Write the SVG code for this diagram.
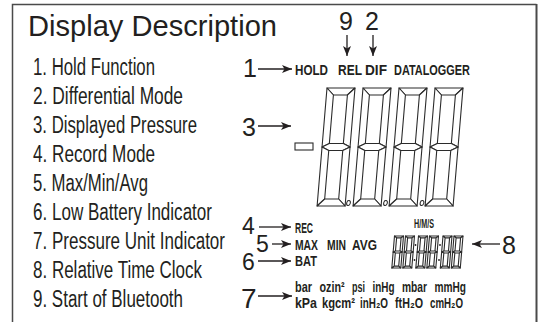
<svg xmlns="http://www.w3.org/2000/svg" xmlns:xlink="http://www.w3.org/1999/xlink" width="542" height="322" viewBox="0 0 542 322">
<style>
.frame{fill:none;stroke:#4a4a4a;stroke-width:1.5}
.title{font-family:"Liberation Sans",Arial,sans-serif;font-size:29px;fill:#231f20}
.item{font-family:"Liberation Sans Narrow","Liberation Sans",Arial,sans-serif;font-size:23px;fill:#231f20}
.num{font-family:"Liberation Sans",Arial,sans-serif;font-size:25px;fill:#231f20}
.lcd{font-family:"Liberation Sans Narrow","Liberation Sans","DejaVu Sans",Arial,sans-serif;font-weight:bold;font-size:14.5px;fill:#231f20}
.seg polygon{fill:#fff;stroke:#2b2b2b;stroke-width:1.1;stroke-linejoin:round;vector-effect:non-scaling-stroke}
.arr{stroke:#231f20;stroke-width:1.3;fill:none}
</style>
<defs>
<marker id="ah" markerUnits="userSpaceOnUse" markerWidth="11" markerHeight="9" refX="10" refY="4" orient="auto" overflow="visible">
<path d="M0,0 L10,4 L0,8 L2.5,4 Z" fill="#231f20"/>
</marker>
<g id="dg" class="seg">
<polygon points="0,0 28,0 21,7 7,7"/>
<polygon points="0,0 7,7 7,55.5 0,59"/>
<polygon points="28,0 21,7 21,55.5 28,59"/>
<polygon points="0,59 7,55.5 21,55.5 28,59 21,62.5 7,62.5"/>
<polygon points="0,59 7,62.5 7,111 0,118"/>
<polygon points="28,59 21,62.5 21,111 28,118"/>
<polygon points="0,118 7,111 21,111 28,118"/>
</g>
</defs>
<rect width="542" height="322" fill="#fff"/>
<path class="frame" d="M12.5,322 V4.5 H536.5"/>
<line x1="536.5" y1="4" x2="536.5" y2="322" stroke="#4a4a4a" stroke-width="2"/>

<g id="title"><text class="title" x="28" y="36" textLength="249" lengthAdjust="spacingAndGlyphs">Display Description</text></g>

<g id="legend">
<text class="item" x="33" y="75" textLength="122" lengthAdjust="spacingAndGlyphs">1. Hold Function</text>
<text class="item" x="33" y="104" textLength="150" lengthAdjust="spacingAndGlyphs">2. Differential Mode</text>
<text class="item" x="33" y="133" textLength="164" lengthAdjust="spacingAndGlyphs">3. Displayed Pressure</text>
<text class="item" x="33" y="162" textLength="122" lengthAdjust="spacingAndGlyphs">4. Record Mode</text>
<text class="item" x="33" y="191" textLength="115" lengthAdjust="spacingAndGlyphs">5. Max/Min/Avg</text>
<text class="item" x="33" y="220" textLength="179" lengthAdjust="spacingAndGlyphs">6. Low Battery Indicator</text>
<text class="item" x="33" y="249" textLength="192" lengthAdjust="spacingAndGlyphs">7. Pressure Unit Indicator</text>
<text class="item" x="33" y="278" textLength="169" lengthAdjust="spacingAndGlyphs">8. Relative Time Clock</text>
<text class="item" x="33" y="307" textLength="150" lengthAdjust="spacingAndGlyphs">9. Start of Bluetooth</text>
</g>

<g id="callouts">
<text class="num" x="243" y="77">1</text>
<text class="num" x="242" y="136">3</text>
<text class="num" x="242" y="234" style="font-size:23px">4</text>
<text class="num" x="256" y="252" style="font-size:23px">5</text>
<text class="num" x="242" y="270" style="font-size:23px">6</text>
<text class="num" x="241" y="308" style="font-size:28px">7</text>
<text class="num" x="502" y="254">8</text>
<text class="num" x="339" y="30">9</text>
<text class="num" x="365" y="30">2</text>
</g>

<g id="top-indicators">
<text class="lcd" x="295" y="75" style="font-size:15.5px" textLength="33" lengthAdjust="spacingAndGlyphs">HOLD</text>
<text class="lcd" x="338" y="75" style="font-size:15.5px" textLength="24" lengthAdjust="spacingAndGlyphs">REL</text>
<text class="lcd" x="365" y="75" style="font-size:15.5px" textLength="22" lengthAdjust="spacingAndGlyphs">DIF</text>
<text class="lcd" x="394" y="75" style="font-size:15.5px" textLength="76" lengthAdjust="spacingAndGlyphs">DATALOGGER</text>
</g>

<g id="main-display">
<rect x="295" y="143" width="18" height="7" fill="#fff" stroke="#2b2b2b" stroke-width="1.1"/>
<use xlink:href="#dg" href="#dg" transform="translate(327,88) skewX(-4.8)"/>
<use xlink:href="#dg" href="#dg" transform="translate(363,88) skewX(-4.8)"/>
<use xlink:href="#dg" href="#dg" transform="translate(399,88) skewX(-4.8)"/>
<use xlink:href="#dg" href="#dg" transform="translate(435,88) skewX(-4.8)"/>
<ellipse cx="348.5" cy="203" rx="1.8" ry="2.6" transform="rotate(15 348.5 203)" fill="#fff" stroke="#2b2b2b" stroke-width="1"/>
<ellipse cx="385.5" cy="203" rx="1.8" ry="2.6" transform="rotate(15 385.5 203)" fill="#fff" stroke="#2b2b2b" stroke-width="1"/>
<ellipse cx="422" cy="203" rx="1.8" ry="2.6" transform="rotate(15 422 203)" fill="#fff" stroke="#2b2b2b" stroke-width="1"/>
</g>

<g id="mode-indicators">
<text class="lcd" x="295" y="233" textLength="18" lengthAdjust="spacingAndGlyphs">REC</text>
<text class="lcd" x="295" y="250" textLength="23" lengthAdjust="spacingAndGlyphs">MAX</text>
<text class="lcd" x="327" y="250" textLength="19" lengthAdjust="spacingAndGlyphs">MIN</text>
<text class="lcd" x="352" y="250" textLength="25" lengthAdjust="spacingAndGlyphs">AVG</text>
<text class="lcd" x="295" y="266" textLength="22" lengthAdjust="spacingAndGlyphs">BAT</text>
</g>

<g id="clock">
<text class="lcd" x="414" y="228" style="font-size:13.5px" textLength="20" lengthAdjust="spacingAndGlyphs">H/M/S</text>
<use xlink:href="#dg" href="#dg" transform="translate(394.5,236) skewX(-4.8) scale(0.321,0.271)"/>
<use xlink:href="#dg" href="#dg" transform="translate(405.5,236) skewX(-4.8) scale(0.321,0.271)"/>
<use xlink:href="#dg" href="#dg" transform="translate(418.5,236) skewX(-4.8) scale(0.321,0.271)"/>
<use xlink:href="#dg" href="#dg" transform="translate(429.5,236) skewX(-4.8) scale(0.321,0.271)"/>
<use xlink:href="#dg" href="#dg" transform="translate(443,236) skewX(-4.8) scale(0.321,0.271)"/>
<use xlink:href="#dg" href="#dg" transform="translate(454,236) skewX(-4.8) scale(0.321,0.271)"/>
<circle cx="415.5" cy="245" r="0.9" fill="#231f20"/>
<circle cx="440" cy="245" r="0.9" fill="#231f20"/>
<circle cx="414.5" cy="260" r="0.9" fill="#231f20"/>
<circle cx="439" cy="260" r="0.9" fill="#231f20"/>
</g>

<g id="units">
<text class="lcd" x="295" y="292" textLength="17" lengthAdjust="spacingAndGlyphs">bar</text>
<text class="lcd" x="319.5" y="292" textLength="25" lengthAdjust="spacingAndGlyphs">ozin²</text>
<text class="lcd" x="352" y="292" textLength="13" lengthAdjust="spacingAndGlyphs">psi</text>
<text class="lcd" x="372.5" y="292" textLength="22" lengthAdjust="spacingAndGlyphs">inHg</text>
<text class="lcd" x="402" y="292" textLength="25" lengthAdjust="spacingAndGlyphs">mbar</text>
<text class="lcd" x="434.5" y="292" textLength="31.5" lengthAdjust="spacingAndGlyphs">mmHg</text>
<text class="lcd" x="295" y="308" textLength="22" lengthAdjust="spacingAndGlyphs">kPa</text>
<text class="lcd" x="322" y="308" textLength="33" lengthAdjust="spacingAndGlyphs">kgcm²</text>
<text class="lcd" x="360" y="308" textLength="28" lengthAdjust="spacingAndGlyphs">inH₂O</text>
<text class="lcd" x="395" y="308" textLength="28" lengthAdjust="spacingAndGlyphs">ftH₂O</text>
<text class="lcd" x="430" y="308" textLength="33" lengthAdjust="spacingAndGlyphs">cmH₂O</text>
</g>

<g id="connectors" class="arr">
<line x1="258" y1="69" x2="292" y2="69" marker-end="url(#ah)"/>
<line x1="258" y1="126" x2="291" y2="126" marker-end="url(#ah)"/>
<line x1="259" y1="227" x2="291" y2="227" marker-end="url(#ah)"/>
<line x1="272" y1="244" x2="291" y2="244" marker-end="url(#ah)"/>
<line x1="258" y1="261" x2="291" y2="261" marker-end="url(#ah)"/>
<line x1="258" y1="296" x2="292" y2="296" marker-end="url(#ah)"/>
<line x1="500" y1="244" x2="472" y2="244" marker-end="url(#ah)"/>
<line x1="347" y1="35" x2="347" y2="56" marker-end="url(#ah)"/>
<line x1="373" y1="35" x2="373" y2="56" marker-end="url(#ah)"/>
</g>
</svg>
